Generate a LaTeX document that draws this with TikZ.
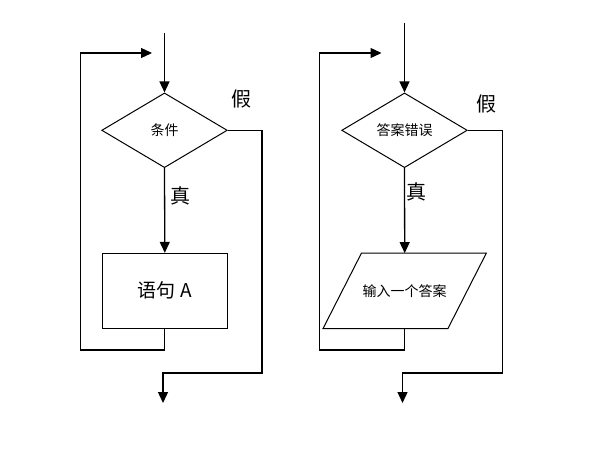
\documentclass[tikz,border=0pt]{standalone}
\usepackage{fontspec}
\newfontfamily\cjk{Noto Sans CJK SC}
\usetikzlibrary{shapes.geometric,arrows.meta}
\begin{document}
\begin{tikzpicture}[x=1pt,y=-1pt,
  line/.style={line width=1.3pt,line join=miter},
  arr/.style={line, -{Triangle[length=11pt,width=10pt]}},
  dec/.style={diamond, draw, line width=1pt, inner sep=0pt, aspect=1.68,
              minimum width=125.6pt, minimum height=74.7pt, font=\cjk\fontsize{14pt}{16pt}\selectfont},
  stmt/.style={rectangle, draw, line width=1pt, minimum width=125pt, minimum height=75pt,
              inner sep=0pt, font=\cjk\fontsize{19pt}{21pt}\selectfont},
  iobox/.style={rectangle, draw=none, minimum width=124.5pt, minimum height=75pt,
              inner sep=0pt, font=\cjk\fontsize{14pt}{16pt}\selectfont},
  lab/.style={font=\cjk\fontsize{20pt}{22pt}\selectfont, inner sep=0pt}]
\useasboundingbox[fill=white] (0,0) rectangle (607,455);

% ---- left flowchart ----
\node[dec] (c1) at (164.5,130.3) {条件};
\node[stmt] (r1) at (164.8,290.8) {语句 A};
\coordinate (s1) at (164.5,33);
\coordinate (b1) at (164.8,350);
\coordinate (l1) at (80.7,350);
\coordinate (lt1) at (80.7,53);
\coordinate (t1) at (152,53);
\coordinate (e1) at (262,130.3);
\coordinate (e1b) at (262,373);
\coordinate (x1) at (163,373);
\coordinate (y1) at (163,403);
\draw[arr] (s1) -- (c1.north);
\draw[arr] (c1.south) -- (r1.north);
\draw[arr] (r1.south) -- (b1) -- (l1) -- (lt1) -- (t1);
\draw[arr] (c1.east) -- (e1) -- (e1b) -- (x1) -- (y1);
\node[lab] (f1) at (241.7,99) {假};
\node[lab] (tr1) at (180,196) {真};

% ---- right flowchart ----
\node[dec] (c2) at (404.5,130.3) {答案错误};
\node[iobox] (p2) at (404.7,290.8) {输入一个答案};
\draw[line width=1pt] ([xshift=-19.2pt]p2.south west) -- ([xshift=-19.2pt]p2.south east)
   -- ([xshift=19.2pt]p2.north east) -- ([xshift=19.2pt]p2.north west) -- cycle;
\coordinate (s2) at (404.5,23);
\coordinate (b2) at (404.7,350);
\coordinate (l2) at (319.5,350);
\coordinate (lt2) at (319.5,53);
\coordinate (t2) at (381.5,53);
\coordinate (e2) at (502.3,130.3);
\coordinate (e2b) at (502.3,373);
\coordinate (x2) at (402.5,373);
\coordinate (y2) at (402.5,403);
\draw[arr] (s2) -- (c2.north);
\draw[arr] (c2.south) -- (p2.north);
\draw[arr] (p2.south) -- (b2) -- (l2) -- (lt2) -- (t2);
\draw[arr] (c2.east) -- (e2) -- (e2b) -- (x2) -- (y2);
\node[lab] (f2) at (486.7,104) {假};
\node[lab] (tr2) at (416.7,192) {真};
\end{tikzpicture}
\end{document}
